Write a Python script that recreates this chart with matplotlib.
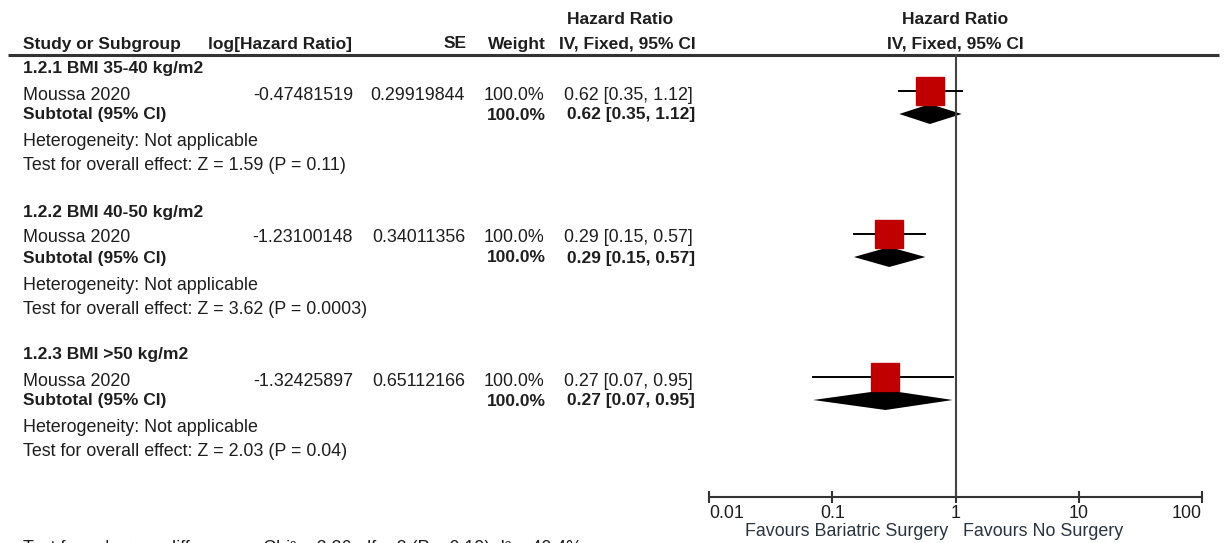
import matplotlib
matplotlib.use("Agg")
import matplotlib.pyplot as plt
from matplotlib import font_manager

# data
groups = ["1.2.1 BMI 35-40 kg/m2", "1.2.2 BMI 40-50 kg/m2", "1.2.3 BMI >50 kg/m2"]
study = "Moussa 2020"
log_hr = ["-0.47481519", "-1.23100148", "-1.32425897"]
se = ["0.29919844", "0.34011356", "0.65112166"]
weight = ["100.0%", "100.0%", "100.0%"]
hr = [0.62, 0.29, 0.27]
ci_lo = [0.35, 0.15, 0.07]
ci_hi = [1.12, 0.57, 0.95]
z_txt = ["Z = 1.59 (P = 0.11)", "Z = 3.62 (P = 0.0003)", "Z = 2.03 (P = 0.04)"]
ticks = [0.01, 0.1, 1, 10, 100]
tick_labels = ["0.01", "0.1", "1", "10", "100"]
subgroup_test = "Test for subgroup differences: Chi\u00b2 = 3.36, df = 2 (P = 0.19), I\u00b2 = 40.4%"

names = {f.name for f in font_manager.fontManager.ttflist}
fam = "Liberation Sans" if "Liberation Sans" in names else "DejaVu Sans"
plt.rcParams["font.family"] = fam

W, H = 1224, 543
fig = plt.figure(figsize=(W / 100, H / 100), dpi=100)
tab = fig.add_axes([0, 0, 1, 1])
tab.set_xlim(0, W)
tab.set_ylim(H, 0)
tab.axis("off")

fc = "#1e1e1e"
rs = 12.9   # regular size
bs = 12.5   # bold size

def txt(x, y, s, bold=False, ha="left"):
    tab.text(x, y, s, ha=ha, va="center", color=fc,
             fontsize=bs if bold else rs,
             fontweight="bold" if bold else "normal")

# header
txt(620, 20, "Hazard Ratio", bold=True, ha="center")
txt(955, 20, "Hazard Ratio", bold=True, ha="center")
txt(23, 44, "Study or Subgroup", bold=True)
txt(208, 44, "log[Hazard Ratio]", bold=True)
txt(467, 44, "SE", bold=True, ha="right")
txt(546, 44, "Weight", bold=True, ha="right")
txt(696, 44, "IV, Fixed, 95% CI", bold=True, ha="right")
txt(955, 44, "IV, Fixed, 95% CI", bold=True, ha="center")
tab.plot([8, 1219], [55, 55], color="#333333", lw=2.2, solid_capstyle="butt")

step = 143
for i, g in enumerate(groups):
    y0 = 69 + i * step
    txt(23, y0, g, bold=True)
    txt(23, y0 + 26, study)
    txt(353, y0 + 26, log_hr[i], ha="right")
    txt(465, y0 + 26, se[i], ha="right")
    txt(544, y0 + 26, weight[i], ha="right")
    ci = f"{hr[i]:.2f} [{ci_lo[i]:.2f}, {ci_hi[i]:.2f}]"
    txt(693, y0 + 26, ci, ha="right")
    txt(23, y0 + 46, "Subtotal (95% CI)", bold=True)
    txt(546, y0 + 46, weight[i], bold=True, ha="right")
    txt(695, y0 + 46, ci, bold=True, ha="right")
    txt(23, y0 + 73, "Heterogeneity: Not applicable")
    txt(23, y0 + 97, "Test for overall effect: " + z_txt[i])

# only the top of this line is visible in the reference
tab.text(23, 540, subgroup_test, ha="left", va="top", color=fc, fontsize=rs)

# forest panel
x0, x1 = 709, 1202
ax = fig.add_axes([x0 / W, 0, (x1 - x0) / W, 1])
ax.set_xscale("log")
ax.set_xlim(0.01, 100)
ax.set_ylim(H, 0)
ax.patch.set_visible(False)
for s in ["left", "right", "top"]:
    ax.spines[s].set_visible(False)
ax.spines["bottom"].set_position(("data", 497))
ax.spines["bottom"].set_color("#333333")
ax.spines["bottom"].set_linewidth(1.5)
ax.set_yticks([])
ax.set_xticks(ticks, tick_labels)
ax.minorticks_off()
ax.tick_params(axis="x", direction="inout", length=8.6, width=1.5,
               color="#333333", labelsize=rs, labelcolor=fc, pad=1.5)
labs = ax.get_xticklabels()
labs[0].set_ha("left")
labs[-1].set_ha("right")

ax.plot([1, 1], [55, 497], color="#444444", lw=1.5)

for i in range(len(groups)):
    yc = 69 + i * step + 22
    ax.plot([ci_lo[i], ci_hi[i]], [yc, yc], color="black", lw=1.4)
    ax.plot([hr[i]], [yc], marker="s", markersize=19.5, color="#c00000", mec="#c00000")
    yd = 69 + i * step + 45
    ax.fill([ci_lo[i], hr[i], ci_hi[i], hr[i]], [yd, yd - 10, yd, yd + 10],
            color="black", lw=0)

tab.text(948, 532, "Favours Bariatric Surgery", ha="right", va="center",
         color="#2b3340", fontsize=rs)
tab.text(963, 532, "Favours No Surgery", ha="left", va="center",
         color="#2b3340", fontsize=rs)

fig.savefig("out.png", dpi=100)
